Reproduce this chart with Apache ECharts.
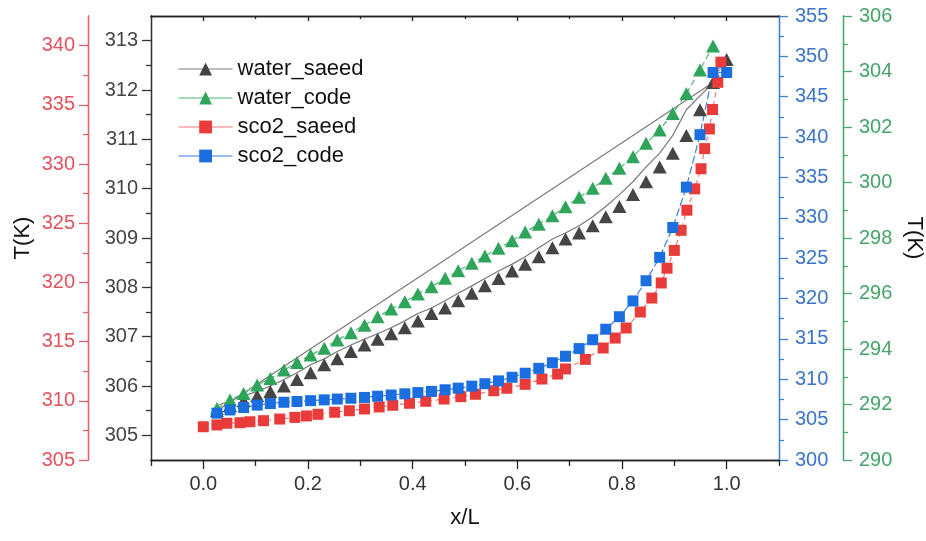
<!DOCTYPE html>
<html>
<head>
<meta charset="utf-8">
<script src="https://cdn.jsdelivr.net/npm/echarts@6/dist/echarts.min.js"></script>
<style>
  html, body { margin: 0; padding: 0; background: #fff; }
  #app { width: 926px; height: 541px; }
</style>
</head>
<body>
<div id="app"></div>
<script>
// x/L positions of the "code" results (39 even steps) and of the saeed water curve
var gridX = [0.026, 0.051, 0.077, 0.103, 0.128, 0.154, 0.179, 0.205, 0.231, 0.256,
             0.282, 0.308, 0.333, 0.359, 0.385, 0.410, 0.436, 0.462, 0.487, 0.513,
             0.538, 0.564, 0.590, 0.615, 0.641, 0.667, 0.692, 0.718, 0.744, 0.769,
             0.795, 0.821, 0.846, 0.872, 0.897, 0.923, 0.949, 0.974, 1.000];

// water_saeed, black axis
var waterSaeedT = [305.50, 305.60, 305.70, 305.80, 305.89, 306.00, 306.13, 306.27, 306.43, 306.55,
                   306.70, 306.83, 306.95, 307.06, 307.18, 307.32, 307.47, 307.58, 307.73, 307.88,
                   308.03, 308.18, 308.33, 308.47, 308.62, 308.80, 308.98, 309.10, 309.25, 309.43,
                   309.64, 309.88, 310.14, 310.44, 310.72, 311.08, 311.60, 312.15, 312.62];

// water_code, green axis (first 38 positions)
var waterCodeT = [291.86, 292.16, 292.40, 292.70, 292.94, 293.24, 293.51, 293.78, 294.03, 294.32,
                  294.59, 294.86, 295.16, 295.44, 295.70, 295.98, 296.24, 296.55, 296.82, 297.09,
                  297.35, 297.63, 297.90, 298.22, 298.50, 298.80, 299.13, 299.47, 299.79, 300.15,
                  300.51, 300.93, 301.41, 301.89, 302.49, 303.21, 304.05, 304.92];

// sco2_saeed, red axis
var sco2SaeedX = [0.000, 0.026, 0.045, 0.070, 0.089, 0.115, 0.146, 0.175, 0.197, 0.219,
                  0.251, 0.279, 0.308, 0.336, 0.362, 0.394, 0.425, 0.460, 0.492, 0.520,
                  0.555, 0.580, 0.615, 0.647, 0.677, 0.692, 0.730, 0.764, 0.787, 0.808,
                  0.835, 0.857, 0.875, 0.886, 0.900, 0.913, 0.924, 0.939, 0.951, 0.958,
                  0.967, 0.973, 0.983, 0.989];
var sco2SaeedT = [307.81, 307.96, 308.10, 308.15, 308.23, 308.32, 308.46, 308.60, 308.72, 308.86,
                  309.03, 309.16, 309.31, 309.48, 309.62, 309.79, 309.96, 310.15, 310.35, 310.55,
                  310.85, 311.06, 311.39, 311.84, 312.26, 312.69, 313.50, 314.46, 315.30, 316.15,
                  317.50, 318.68, 319.95, 321.20, 322.70, 324.40, 326.10, 327.90, 329.60, 331.30,
                  332.96, 334.60, 336.90, 338.60];

// sco2_code, blue axis
var sco2CodeT = [305.80, 306.20, 306.50, 306.80, 307.00, 307.15, 307.25, 307.35, 307.45, 307.55,
                 307.65, 307.75, 307.90, 308.05, 308.20, 308.35, 308.50, 308.70, 308.90, 309.15,
                 309.45, 309.80, 310.25, 310.75, 311.35, 312.05, 312.85, 313.80, 314.90, 316.20,
                 317.75, 319.70, 322.20, 325.10, 328.80, 333.80, 340.30, 348.00, 348.00];

// tick labels
var xLabels = [0, 0.2, 0.4, 0.6, 0.8, 1.0];
var xMinor = [-0.1, 0.1, 0.3, 0.5, 0.7, 0.9, 1.1];
var blackTicks = [305, 306, 307, 308, 309, 310, 311, 312, 313];
var redTicks = [305, 310, 315, 320, 325, 330, 335, 340];
var blueTicks = [300, 305, 310, 315, 320, 325, 330, 335, 340, 345, 350, 355];
var greenTicks = [290, 292, 294, 296, 298, 300, 302, 304, 306];

var FONT = '"Liberation Sans", Arial, sans-serif';

function pairs(xs, ys) {
    return ys.map(function (y, i) { return [xs[i], y]; });
}
function mids(ticks) {
    var out = [];
    for (var i = 0; i < ticks.length - 1; i++) out.push((ticks[i] + ticks[i + 1]) / 2);
    return out;
}

// one axis with labels + major ticks, a twin with short minor ticks
function yPair(c) {
    var line = {show: true, onZero: false, lineStyle: {color: c.color, width: 1.3}};
    var major = {
        type: 'value', position: c.pos, offset: c.offset, min: c.min, max: c.max,
        splitLine: {show: false}, axisLine: line,
        axisTick: {show: true, length: 9, lineStyle: {color: c.color, width: 1.3}, customValues: c.ticks},
        axisLabel: {show: true, customValues: c.ticks, color: c.label, fontSize: 20,
                    fontFamily: FONT, margin: c.margin}
    };
    if (c.name) {
        major.name = c.name;
        major.nameLocation = 'middle';
        major.nameGap = c.nameGap;
        major.nameRotate = c.nameRotate;
        major.nameMoveOverlap = false;
        major.nameTextStyle = {fontSize: 22, color: '#111', fontFamily: FONT};
    }
    var minor = {
        type: 'value', position: c.pos, offset: c.offset, min: c.min, max: c.max,
        splitLine: {show: false}, axisLine: line,
        axisTick: {show: true, length: 5, lineStyle: {color: c.color, width: 1.3}, customValues: c.minor || mids(c.ticks)},
        axisLabel: {show: false}
    };
    return [major, minor];
}

function xAxisOf(pos, ticks, len, inside, labels) {
    return {
        type: 'value', position: pos, min: -0.1, max: 1.1,
        splitLine: {show: false},
        axisLine: {show: true, onZero: false, lineStyle: {color: '#222', width: 1.3}},
        axisTick: {show: true, inside: inside, length: len, lineStyle: {color: '#222', width: 1.3}, customValues: ticks},
        axisLabel: labels ? {show: true, customValues: ticks, color: '#333', fontSize: 20, fontFamily: FONT,
                             margin: 14, formatter: function (v) { return v.toFixed(1); }} : {show: false}
    };
}

var yAxes = [].concat(
    yPair({pos: 'left', offset: 0, min: 304.5, max: 313.5, ticks: blackTicks,
           minor: [305.5, 306.5, 307.5, 308.5, 309.5, 310.5, 311.5, 312.5],
           color: '#333', label: '#444', margin: 13}),
    yPair({pos: 'left', offset: 63, min: 305, max: 342.5, ticks: redTicks,
           minor: [307.5, 312.5, 317.5, 322.5, 327.5, 332.5, 337.5],
           color: '#e2626b', label: '#e4535d', margin: 13,
           name: 'T(K)', nameGap: 54, nameRotate: 90}),
    yPair({pos: 'right', offset: 0, min: 300, max: 355, ticks: blueTicks,
           color: '#3d7fd9', label: '#3a74c8', margin: 16}),
    yPair({pos: 'right', offset: 64, min: 290, max: 306, ticks: greenTicks,
           color: '#4aaa6d', label: '#45a468', margin: 16,
           name: 'T(K)', nameGap: 60, nameRotate: -90})
);

var bottomX = xAxisOf('bottom', xLabels, 9, false, true);
bottomX.name = 'x/L';
bottomX.nameLocation = 'middle';
bottomX.nameGap = 47;
bottomX.nameTextStyle = {fontSize: 22, color: '#111', fontFamily: FONT};

// the saeed water line as it appears in the figure: offset by one marker, then closed back to the start
var waterSaeedPath = [];
for (var i = 0; i < 36; i++) waterSaeedPath.push([gridX[i], waterSaeedT[i + 1]]);
waterSaeedPath.push([gridX[37], waterSaeedT[37]]);
waterSaeedPath.push([gridX[0], waterSaeedT[0]]);

var myChart = echarts.init(document.getElementById('app'));
var option = {
    animation: false,
    backgroundColor: '#fff',
    grid: {left: 151, right: 147, top: 16, bottom: 81, containLabel: false, outerBoundsMode: 'none'},
    xAxis: [bottomX,
            xAxisOf('bottom', xMinor, 6, false, false),
            xAxisOf('top', xLabels, 5, true, false),
            xAxisOf('top', [0.1, 0.3, 0.5, 0.7, 0.9], 3, true, false)],
    yAxis: yAxes,
    legend: {
        orient: 'vertical', left: 173, top: 53, padding: 5,
        itemWidth: 54, itemHeight: 16, itemGap: 7,
        textStyle: {fontSize: 22, color: '#111', fontFamily: FONT},
        lineStyle: {type: 'solid', opacity: 1, width: 1.2},
        data: ['water_saeed', 'water_code', 'sco2_saeed', 'sco2_code']
    },
    series: [
        {
            name: 'water_saeed_line', type: 'line', xAxisIndex: 0, yAxisIndex: 0,
            data: waterSaeedPath, showSymbol: false, silent: true,
            lineStyle: {color: '#7a7a7a', width: 1.2}
        },
        {
            name: 'water_saeed', type: 'line', xAxisIndex: 0, yAxisIndex: 0,
            data: pairs(gridX, waterSaeedT),
            symbol: 'triangle', symbolSize: [14, 13],
            itemStyle: {color: '#454545'},
            lineStyle: {color: '#7a7a7a', width: 1.2, opacity: 0}
        },
        {
            name: 'water_code', type: 'line', xAxisIndex: 0, yAxisIndex: 6,
            data: pairs(gridX, waterCodeT),
            symbol: 'triangle', symbolSize: [14, 13],
            itemStyle: {color: '#2ea55a'},
            lineStyle: {color: '#4cb573', width: 1.2, type: [6, 4]}
        },
        {
            name: 'sco2_saeed', type: 'line', xAxisIndex: 0, yAxisIndex: 2,
            data: pairs(sco2SaeedX, sco2SaeedT),
            symbol: 'rect', symbolSize: 11,
            itemStyle: {color: '#ea3b3b'},
            lineStyle: {color: '#f07878', width: 1.2, type: [5, 4]}
        },
        {
            name: 'sco2_code', type: 'line', xAxisIndex: 0, yAxisIndex: 4,
            data: pairs(gridX, sco2CodeT),
            symbol: 'rect', symbolSize: 11,
            itemStyle: {color: '#1a6ee0'},
            lineStyle: {color: '#3b7fe0', width: 1.2, type: [8, 3]}
        }
    ]
};
myChart.setOption(option);
</script>
</body>
</html>
